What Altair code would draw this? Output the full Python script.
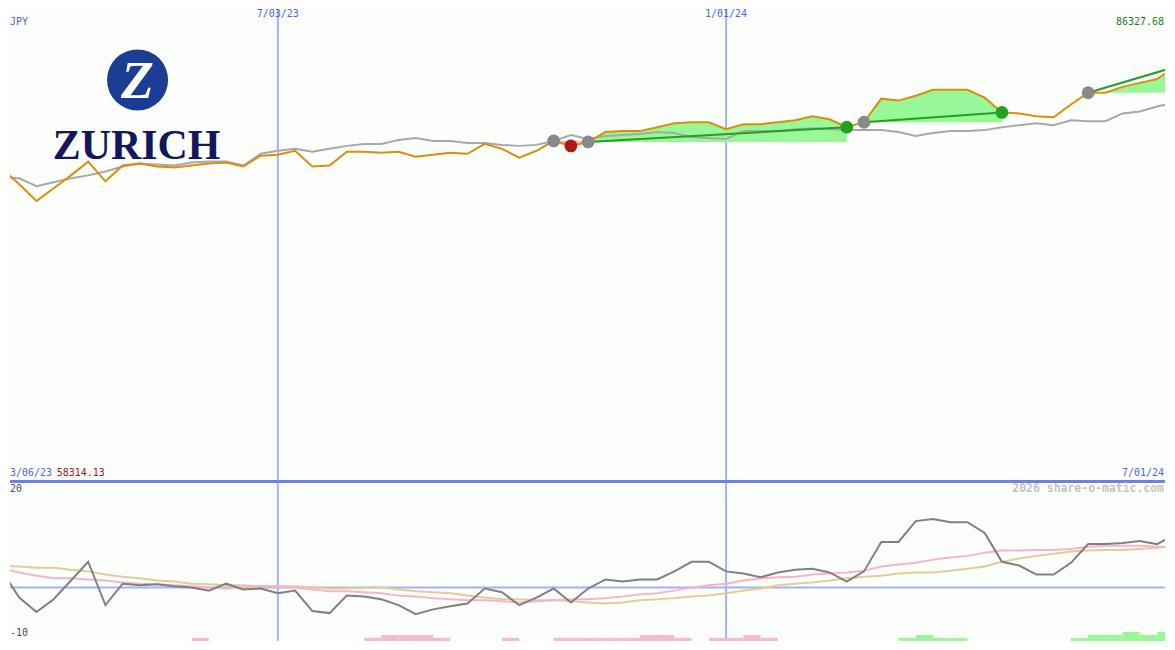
import altair as alt
import pandas as pd

# ---------------- data ----------------
dates = [d.strftime("%Y-%m-%d") for d in pd.date_range("2023-03-13", periods=69, freq="7D")]
dates_next = [d.strftime("%Y-%m-%d") for d in pd.date_range("2023-03-20", periods=69, freq="7D")]

price = [76549, 75629, 74651, 75399, 76147, 76952, 75801, 76722, 76837, 76664,
         76607, 76722, 76837, 76894, 76664, 77297, 77355, 77585, 76664, 76722,
         77527, 77527, 77470, 77527, 77239, 77355, 77470, 77412, 77987, 77700,
         77182, 77585, 78160, 77872, 78102, 78677, 78735, 78735, 78965, 79195,
         79253, 79253, 78850, 79138, 79138, 79253, 79368, 79598, 79425, 78965,
         79253, 80633, 80518, 80806, 81151, 81151, 81151, 80691, 79828, 79770,
         79598, 79540, 80288, 80978, 80978, 81323, 81553, 81784, 82474]

ma = [76032, 75974, 75514, 75744, 75974, 76147, 76377, 76664, 76837, 76779,
      76722, 76894, 76952, 76952, 76722, 77412, 77585, 77700, 77527, 77700,
      77872, 77987, 77987, 78217, 78332, 78160, 78160, 78045, 78045, 77930,
      77872, 77930, 78160, 78505, 78275, 78447, 78505, 78562, 78677, 78620,
      78390, 78332, 78275, 78735, 78735, 78735, 78850, 78908, 78850, 78793,
      78793, 78793, 78677, 78447, 78620, 78735, 78735, 78793, 78965, 79080,
      79195, 79080, 79368, 79310, 79310, 79770, 79885, 80173, 80403]

osc = [3.1, -1.9, -4.6, -2.2, 1.3, 4.8, -3.3, 0.7, 0.4, 0.6,
       0.2, 0.0, -0.6, 0.7, -0.4, -0.2, -1.1, -0.6, -4.4, -4.8,
       -1.5, -1.7, -2.2, -3.3, -5.0, -4.1, -3.5, -3.0, -0.2, -0.9,
       -3.3, -1.9, -0.2, -2.8, -0.2, 1.5, 1.1, 1.5, 1.5, 3.0,
       4.8, 4.8, 3.0, 2.6, 1.9, 2.8, 3.3, 3.5, 2.8, 1.1,
       3.0, 8.5, 8.5, 12.4, 12.8, 12.2, 12.2, 10.2, 4.8, 4.1,
       2.4, 2.4, 4.6, 8.1, 8.1, 8.3, 8.7, 8.1, 9.8]

osc_fast = [3.5, 2.8, 2.2, 1.7, 1.7, 1.5, 1.3, 0.9, 0.7, 0.6,
            0.4, 0.2, 0.0, -0.2, 0.0, 0.2, 0.2, 0.0, -0.4, -0.7,
            -0.7, -0.9, -1.1, -1.5, -1.7, -2.0, -2.2, -2.4, -2.4, -2.6,
            -2.8, -2.6, -2.4, -2.2, -2.2, -2.0, -1.7, -1.3, -1.1, -0.6,
            0.0, 0.4, 0.7, 1.3, 1.7, 1.9, 2.0, 2.4, 2.6, 2.8,
            3.1, 3.9, 4.3, 4.6, 5.2, 5.6, 5.9, 6.5, 6.9, 6.9,
            7.0, 7.0, 7.2, 7.6, 7.8, 7.8, 7.8, 7.6, 7.4]

osc_slow = [4.1, 3.9, 3.7, 3.7, 3.3, 3.0, 2.4, 2.0, 1.7, 1.3,
            1.1, 0.7, 0.6, 0.4, 0.4, 0.2, 0.2, 0.2, 0.0, -0.2,
            -0.2, 0.0, 0.0, -0.4, -0.7, -0.9, -1.1, -1.5, -1.9, -2.2,
            -2.2, -2.4, -2.4, -2.6, -2.8, -3.0, -2.8, -2.4, -2.2, -2.0,
            -1.7, -1.5, -1.1, -0.6, -0.2, 0.4, 0.7, 0.9, 1.3, 1.7,
            2.0, 2.2, 2.6, 2.8, 2.8, 3.1, 3.5, 3.9, 4.8, 5.4,
            5.9, 6.3, 6.7, 6.9, 7.0, 7.0, 7.2, 7.4, 8.0]

hist = [0, 0, 0, 0, 0, 0, 0, 0, 0, 0,
        0, -0.56, 0, 0, 0, 0, 0, 0, 0, 0,
        0, -0.56, -1.11, -1.11, -1.11, -0.56, 0, 0, 0, -0.56,
        0, 0, -0.56, -0.56, -0.56, -0.56, -0.56, -1.11, -1.11, -0.56,
        0, -0.56, -0.56, -1.11, -0.56, 0, 0, 0, 0, 0,
        0, 0, 0.56, 1.11, 0.56, 0.56, 0, 0, 0, 0,
        0, 0, 0.56, 1.11, 1.11, 1.67, 1.11, 1.67, 0]

signal_idx = [32, 33, 34, 49, 50, 58, 63]
signal_kind = ["neutral", "sell", "neutral", "buy", "neutral", "buy", "neutral"]
trade_start = [34, 50, 63]
trade_end = [49, 58, 68]
loss_start, loss_end = 32, 34

vline_dates = ["2023-07-03", "2024-01-01"]
vline_labels = ["7/03/23", "1/01/24"]
start_label, end_label = "3/06/23", "7/01/24"
currency = "JPY"
price_lo, price_hi = 58314.13, 86327.68
osc_lo, osc_hi = -10, 20
watermark = "2026 share-o-matic.com"

# ---------------- layout ----------------
# the page adds an 8px margin; the chart shows reference pixels 8..1167 (x) and 8..650 (y)
W, H = 1159, 634
ky = H / 642
SEP = 487                      # reference y of the panel separator
H1 = round((SEP - 8) * ky)
H2 = H - H1

def rx(x):
    return min(W - 1.0, max(0.0, x - 8))

def ry(y):
    return max(0.0, (y - 8) * ky)

def rby(y):
    return (y - SEP) * ky

# visible part of the price scale (panel top sits 8 reference px below the label level)
price_top = price_hi - (price_hi - price_lo) * 8 / SEP

BLUE_TXT = "#5262e6"
VLINE = "#a4b2f4"
FONT = "DejaVu Sans Mono"

xscale = alt.Scale(domain=[alt.DateTime(year=2023, month=3, date=16, hours=6, utc=True),
                           alt.DateTime(year=2024, month=6, date=27, hours=5, utc=True)])
X = alt.X("date:T", scale=xscale, axis=None)
X2 = alt.X2("date_next:T")
pscale = alt.Scale(domain=[price_lo, price_top], nice=False, zero=False)
oscale = alt.Scale(domain=[osc_lo, osc_hi], nice=False, zero=False)
Yp = alt.Y("price:Q", scale=pscale, axis=None)
Yo = alt.Y("v:Q", scale=oscale, axis=None)

def one():
    return alt.Data(values=[{"k": 0}])

def label(text, x, y, color, align="left", size=10, weight="normal", font=FONT, style="normal", baseline="middle"):
    return alt.Chart(one()).mark_text(
        text=text, align=align, baseline=baseline, font=font, fontSize=size,
        fontWeight=weight, fontStyle=style, color=color
    ).encode(x=alt.value(x), y=alt.value(y))

# ---------------- top panel ----------------
df = pd.DataFrame({"date": dates, "price": price, "ma": ma})
vl = pd.DataFrame({"date": vline_dates, "lab": vline_labels})

fill_rows = []
for k, (s, e) in enumerate(zip(trade_start, trade_end)):
    for i in range(s, e + 1):
        fill_rows.append({"date": dates[i], "price": price[i], "base": price[s], "trade": k})
fill_df = pd.DataFrame(fill_rows)
loss_df = pd.DataFrame([{"date": dates[i], "price": price[i], "base": price[loss_start]}
                        for i in range(loss_start, loss_end + 1)])

trend_rows = []
for k, (s, e) in enumerate(zip(trade_start, trade_end)):
    trend_rows.append({"date": dates[s], "price": price[s], "trade": k})
    trend_rows.append({"date": dates[e], "price": price[e], "trade": k})
trend_df = pd.DataFrame(trend_rows)

sig_df = pd.DataFrame({"date": [dates[i] for i in signal_idx],
                       "price": [price[i] for i in signal_idx],
                       "kind": signal_kind})

vrules_top = alt.Chart(vl).mark_rule(color=VLINE, strokeWidth=2, clip=True).encode(x=X)
vlabels = alt.Chart(vl).mark_text(font=FONT, fontSize=10, color=BLUE_TXT, baseline="top").encode(
    x=X, y=alt.value(0), text="lab:N")

fill = alt.Chart(fill_df).mark_area(color="#98f898", opacity=1, interpolate="linear", clip=True).encode(
    x=X, y=Yp, y2="base:Q", detail="trade:N")
loss = alt.Chart(loss_df).mark_area(color="#f8b8c8", opacity=1, clip=True).encode(x=X, y=Yp, y2="base:Q")

ma_line = alt.Chart(df).mark_line(color="#a8a8a8", strokeWidth=2, clip=True).encode(
    x=X, y=alt.Y("ma:Q", scale=pscale, axis=None))
trend = alt.Chart(trend_df).mark_line(color="#22a022", strokeWidth=2, clip=True).encode(
    x=X, y=Yp, detail="trade:N")
price_line = alt.Chart(df).mark_line(color="#d8900c", strokeWidth=2, clip=True).encode(x=X, y=Yp)
dots = alt.Chart(sig_df).mark_circle(size=165, opacity=1, clip=True).encode(
    x=X, y=Yp,
    color=alt.Color("kind:N", legend=None,
                    scale=alt.Scale(domain=["neutral", "sell", "buy"],
                                    range=["#8a8a8a", "#b01818", "#22a022"])))

logo_circle = alt.Chart(one()).mark_point(shape="circle", filled=True, size=3750, opacity=1,
                                          color="#1b3d94").encode(x=alt.value(rx(136)), y=alt.value(ry(80)))
logo_z = label("Z", rx(136), ry(98), "#ffffff", align="center", size=54,
               weight="bold", font="Liberation Serif", style="italic", baseline="alphabetic")
logo_txt = label("ZURICH", rx(135), ry(160), "#12175e", align="center", size=42,
                 weight="bold", font="Liberation Serif", baseline="alphabetic")

top = alt.layer(
    vrules_top, fill, loss, logo_circle, logo_z, logo_txt, ma_line, trend, price_line, dots, vlabels,
    label(currency, rx(6), ry(21), BLUE_TXT),
    label(f"{price_hi:.2f}", rx(1171), ry(21), "#208020", align="right"),
    label(start_label, rx(7), ry(479), BLUE_TXT),
    label(f"{price_lo:.2f}", rx(55), ry(479), "#a01818"),
    label(end_label, rx(1172), ry(479), BLUE_TXT, align="right"),
).properties(width=W, height=H1)

# ---------------- bottom panel ----------------
bdf = pd.DataFrame({"date": dates, "date_next": dates_next, "osc": osc,
                    "fast": osc_fast, "slow": osc_slow, "hist": hist})

vrules_bot = alt.Chart(vl).mark_rule(color=VLINE, strokeWidth=2, clip=True).encode(x=X)
zero = alt.Chart(one()).mark_rule(color="#a4b2f4", strokeWidth=2).encode(
    y=alt.Y(datum=0, type="quantitative", scale=oscale, axis=None))
bars = alt.Chart(bdf).transform_filter("datum.hist != 0").transform_calculate(
    b=f"{osc_lo}", v=f"{osc_lo} + abs(datum.hist)"
).mark_rect(clip=True).encode(
    x=X, x2=X2, y=Yo, y2="b:Q",
    color=alt.condition("datum.hist < 0", alt.value("#f8b8cc"), alt.value("#98f898")))

def osc_line(field, color):
    return alt.Chart(bdf).transform_calculate(v=f"datum.{field}").mark_line(
        color=color, strokeWidth=2, clip=True).encode(x=X, y=Yo)

sep = alt.Chart(one()).mark_rule(color="#6f7fe8", strokeWidth=3).encode(
    x=alt.value(0), x2=alt.value(W), y=alt.value(1))

bottom = alt.layer(
    vrules_bot, zero, bars,
    osc_line("slow", "#e2cc9c"), osc_line("fast", "#f8b4c8"), osc_line("osc", "#808080"),
    sep,
    label(watermark, rx(1172), rby(496), "#c4c4c4", align="right", size=11.5, weight="bold"),
    label(str(osc_hi), rx(6), rby(496), "#505050"),
    label(str(osc_lo), rx(6), rby(642), "#505050"),
).properties(width=W, height=H2)

chart = alt.vconcat(top, bottom, spacing=0, bounds="flush").properties(
    padding={"left": 0, "top": 0, "right": 0, "bottom": 0}, background="#fcfefc"
).configure_view(stroke=None)

chart.save("out.html", embed_options={"renderer": "svg", "actions": False})
